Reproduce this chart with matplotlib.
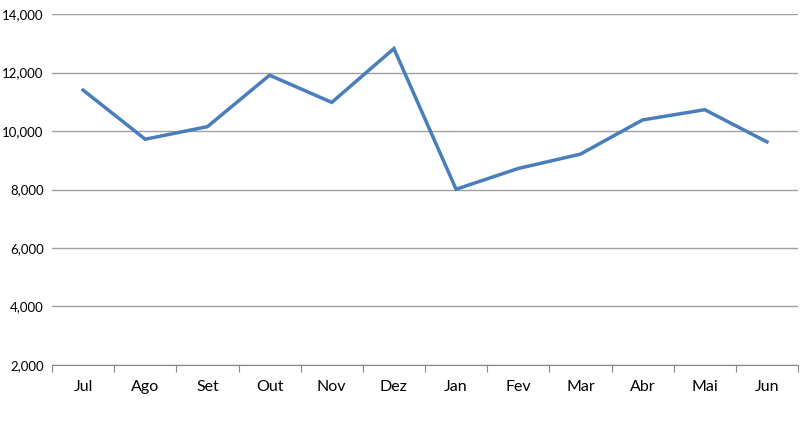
import numpy as np
import matplotlib.pyplot as plt
from matplotlib.ticker import FuncFormatter

months = ['Jul', 'Ago', 'Set', 'Out', 'Nov', 'Dez', 'Jan', 'Fev', 'Mar', 'Abr', 'Mai', 'Jun']
values = [11400, 9720, 10150, 11910, 10980, 12820, 8010, 8720, 9210, 10380, 10730, 9630]
yticks = [2000, 4000, 6000, 8000, 10000, 12000, 14000]

plt.rcParams['font.family'] = ['Lato', 'DejaVu Sans']

fig = plt.figure(figsize=(8, 4.4), dpi=100)
ax = fig.add_axes([0.065, 0.1705, 0.9325, 0.7975])

x = np.arange(len(months))
ax.plot(x, values, color='#4a7ebb', linewidth=2.5, solid_joinstyle='miter')

ax.set_xlim(-0.5, len(months) - 0.5)
ax.set_ylim(yticks[0], yticks[-1])
ax.set_yticks(yticks)
ax.yaxis.set_major_formatter(FuncFormatter(lambda v, p: f'{int(v):,}'))
ax.grid(axis='y', color='#a0a0a0', linewidth=1)
ax.set_axisbelow(True)

# boundary ticks + centered labels
ax.set_xticks(np.arange(len(months) + 1) - 0.5)
ax.set_xticklabels([])
ax.set_xticks(x, minor=True)
ax.set_xticklabels(months, minor=True, fontsize=11.5)
ax.tick_params(axis='x', which='major', length=5, color='#868686', direction='out')
ax.tick_params(axis='x', which='minor', length=0, pad=11)
ax.tick_params(axis='y', length=0, labelsize=9.5, pad=6)

for s in ['top', 'right', 'left']:
    ax.spines[s].set_visible(False)
ax.spines['bottom'].set_color('#868686')

fig.savefig('out.png', dpi=100)
